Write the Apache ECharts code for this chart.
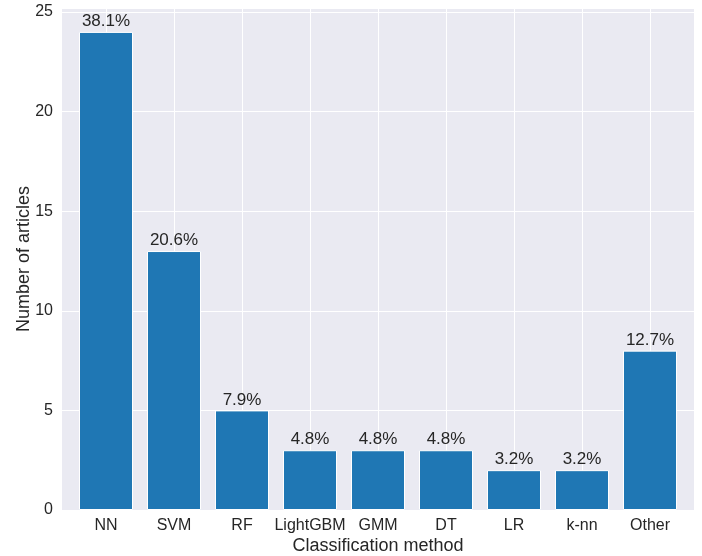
<!DOCTYPE html>
<html>
<head>
<meta charset="utf-8">
<script src="https://cdn.jsdelivr.net/npm/echarts@6/dist/echarts.min.js"></script>
<style>
  html, body { margin: 0; padding: 0; background: #fff; }
  #chart { width: 702px; height: 556px; }
</style>
</head>
<body>
<div id="chart"></div>
<script>
// data
const methods = ['NN', 'SVM', 'RF', 'LightGBM', 'GMM', 'DT', 'LR', 'k-nn', 'Other'];
const articles = [24, 13, 5, 3, 3, 3, 2, 2, 8];
const percentLabels = ['38.1%', '20.6%', '7.9%', '4.8%', '4.8%', '4.8%', '3.2%', '3.2%', '12.7%'];

const font = 'Liberation Sans, Arial, sans-serif';
const textColor = '#262626';
const yMax = 25.2;

const chart = echarts.init(document.getElementById('chart'));

const option = {
  animation: false,
  grid: [
    // background + y axis
    { left: 62, right: 8, top: 8, bottom: 46, show: true, backgroundColor: '#eaeaf2', borderWidth: 0, outerBoundsMode: 'none' },
    // bars
    { left: 72, right: 18, top: 8, bottom: 46, outerBoundsMode: 'none' },
    // vertical grid lines through category centres
    { left: 106, right: 52, top: 8, bottom: 46, outerBoundsMode: 'none' }
  ],
  xAxis: [
    { gridIndex: 0, type: 'value', show: false },
    {
      gridIndex: 1,
      type: 'category',
      data: methods,
      axisLine: { show: false },
      axisTick: { show: false },
      splitLine: { show: false },
      axisLabel: { interval: 0, color: textColor, fontFamily: font, fontSize: 16, margin: 8 },
      name: 'Classification method',
      nameLocation: 'middle',
      nameGap: 27,
      nameMoveOverlap: false,
      nameTextStyle: { color: textColor, fontFamily: font, fontSize: 18 }
    },
    {
      gridIndex: 2,
      type: 'category',
      data: methods,
      boundaryGap: false,
      axisLine: { show: false },
      axisTick: { show: false },
      axisLabel: { show: false, interval: 0 },
      splitLine: { show: true, interval: 0, lineStyle: { color: '#ffffff', width: 1 } }
    }
  ],
  yAxis: [
    {
      gridIndex: 0,
      type: 'value',
      min: 0,
      max: yMax,
      interval: 5,
      axisLine: { show: false },
      axisTick: { show: false },
      axisLabel: {
        color: textColor, fontFamily: font, fontSize: 16, margin: 9,
        showMaxLabel: false,
        formatter: v => (v % 5 === 0 ? String(v) : '')
      },
      splitLine: { show: true, lineStyle: { color: '#ffffff', width: 1 } },
      name: 'Number of articles',
      nameLocation: 'middle',
      nameGap: 29,
      nameRotate: 90,
      nameMoveOverlap: false,
      nameTextStyle: { color: textColor, fontFamily: font, fontSize: 18 }
    },
    { gridIndex: 1, type: 'value', min: 0, max: yMax, show: false, splitLine: { show: false } },
    { gridIndex: 2, type: 'value', min: 0, max: yMax, show: false, splitLine: { show: false } }
  ],
  series: [
    {
      type: 'bar',
      xAxisIndex: 1,
      yAxisIndex: 1,
      data: articles,
      barWidth: 54,
      itemStyle: { color: '#1f77b4', borderColor: '#ffffff', borderWidth: 1 },
      label: {
        show: true,
        position: 'top',
        distance: 2,
        color: textColor,
        fontFamily: font,
        fontSize: 17,
        formatter: p => percentLabels[p.dataIndex]
      }
    }
  ]
};

chart.setOption(option);
</script>
</body>
</html>
